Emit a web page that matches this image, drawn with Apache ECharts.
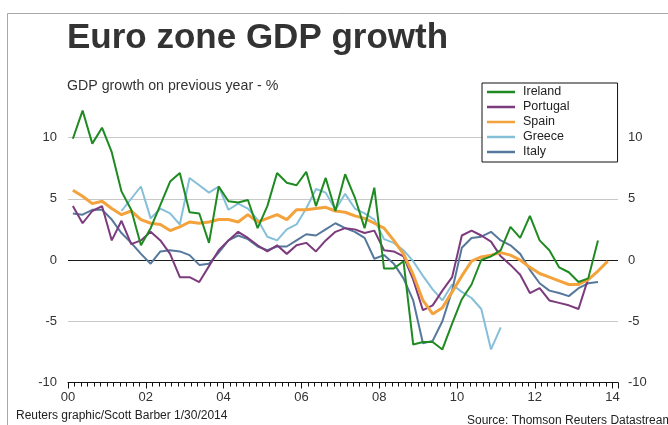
<!DOCTYPE html>
<html><head><meta charset="utf-8">
<script src="https://cdn.jsdelivr.net/npm/echarts@6/dist/echarts.min.js"></script>
<style>html,body{margin:0;padding:0;background:#fff}#c{width:668px;height:425px}</style>
</head><body><div id="c"></div>
<script>
// Quarterly observations, 2000Q1 .. 2013Q4
const quarters = [];
for (let y = 2000; y <= 2013; y++) for (let q = 1; q <= 4; q++) quarters.push(y + 'Q' + q);

const ireland = [9.9,12.2,9.5,10.8,8.8,5.6,4.1,1.2,2.6,4.5,6.4,7.1,
  3.9,3.8,1.4,6.0,4.8,4.7,4.9,2.6,4.4,7.1,6.3,6.1,7.2,4.4,6.7,4.0,7.0,5.1,2.6,5.9,
  -0.7,-0.7,-0.1,-6.9,-6.7,-6.7,-7.3,-5.2,-3.2,-2.0,0.0,0.3,0.8,2.7,1.8,3.6,1.6,0.8,-0.6,-1.0,-1.8,-1.5,1.6,null];
const portugal = [4.4,3.0,4.0,4.4,1.6,3.2,1.3,1.6,2.3,1.6,0.5,-1.4,-1.4,
  -1.8,-0.5,0.8,1.6,2.3,1.8,1.2,0.7,1.2,0.5,1.2,1.4,0.7,1.6,
  2.3,2.6,2.5,2.2,2.4,0.8,0.7,0.3,-1.6,-4.1,-3.7,-2.5,-1.4,
  2.0,2.4,2.0,1.5,0.3,-0.4,-1.2,-2.7,-2.3,-3.3,-3.5,-3.7,-4.0,-1.5,null,null];
const spain = [5.7,5.2,4.6,4.8,4.2,3.7,4.0,3.3,3.0,2.9,2.4,2.7,3.1,
  3.0,3.1,3.3,3.3,3.1,3.7,3.1,3.4,3.7,3.3,4.1,4.1,4.2,4.3,
  4.0,3.9,3.6,3.4,3.0,2.6,1.6,0.5,-1.2,-3.3,-4.4,-3.9,
  -2.6,-1.3,-0.1,0.25,0.4,0.6,0.4,0.0,-0.6,-1.1,-1.4,-1.7,-2.0,-2.0,-1.6,-0.9,-0.1];
const greece = [null,null,null,null,null,4.0,5.0,6.0,3.4,4.2,3.8,2.9,6.7,
  6.1,5.5,6.0,4.1,4.6,4.2,3.3,1.9,1.6,2.5,2.9,4.2,5.8,5.5,
  4.1,5.4,4.2,3.8,3.3,1.7,1.4,0.8,-0.1,-1.3,-2.4,-3.3,
  -2.0,-2.6,-3.1,-4.0,-7.3,-5.5,null,null,null,null,null,null,null,null,null,null,null];
const italy = [3.8,3.7,4.1,4.1,3.3,2.2,1.4,0.5,-0.3,0.7,0.8,0.7,0.4,
  -0.4,-0.3,0.6,1.6,2.0,1.7,1.1,0.8,1.1,1.1,1.6,2.1,2.0,2.5,
  3.0,2.6,2.3,1.8,0.1,0.4,-0.3,-1.5,-3.3,-6.8,-6.6,-5.0,-2.5,
  1.0,1.8,1.9,2.3,1.6,1.2,0.5,-0.8,-1.9,-2.5,-2.7,-2.95,-2.3,-1.9,-1.8,null];

const seriesNames = ['Ireland','Portugal','Spain','Greece','Italy'];
const yTicks = [-10,-5,0,5,10];
const xTickYears = [2000,2002,2004,2006,2008,2010,2012,2014];

const colors = {Ireland:'#1f8a22', Portugal:'#7b3b7d', Spain:'#f3a23c', Greece:'#86c0d8', Italy:'#55789c'};
const values = {Ireland:ireland, Portugal:portugal, Spain:spain, Greece:greece, Italy:italy};

function qx(label){ const y = +label.slice(0,4), q = +label.slice(5); return y + (q - 0.5) / 4; }
function pts(arr){ return quarters.map((qq,i)=>[qx(qq), arr[i]]); }

const FONT = '"Liberation Sans", Arial, sans-serif';
const drawOrder = ['Greece','Italy','Portugal','Spain','Ireland'];

const chart = echarts.init(document.getElementById('c'), null, {renderer:'canvas'});
chart.setOption({
  animation:false,
  backgroundColor:'#fff',
  textStyle:{fontFamily:FONT},
  grid:{left:68, top:137.5, width:550, height:245, containLabel:false},
  xAxis:{type:'value', min:2000, max:2014.14, interval:2,
    axisLine:{show:true, onZero:false, lineStyle:{color:'#111', width:1}},
    axisTick:{show:true, inside:false, length:6, lineStyle:{color:'#111'}},
    minorTick:{show:true, splitNumber:12, length:4, lineStyle:{color:'#111'}},
    splitLine:{show:false},
    axisLabel:{margin:8, fontSize:13, color:'#333', fontFamily:FONT,
      formatter:v=> xTickYears.indexOf(Math.round(v*1000)/1000) >= 0 ? String(v).slice(2) : '',
      showMaxLabel:false}
  },
  yAxis:[
    {type:'value', min:yTicks[0], max:yTicks[yTicks.length-1], interval:5, position:'left',
     axisLine:{show:false}, axisTick:{show:false},
     axisLabel:{margin:11, fontSize:13, color:'#333', fontFamily:FONT},
     splitLine:{show:true, lineStyle:{color:['rgba(0,0,0,0)','#c8c8c8','#1a1a1a','#c8c8c8','#c8c8c8'], width:1}}},
    {type:'value', min:yTicks[0], max:yTicks[yTicks.length-1], interval:5, position:'right',
     axisLine:{show:false}, axisTick:{show:false}, splitLine:{show:false},
     axisLabel:{margin:10, fontSize:13, color:'#333', fontFamily:FONT}}
  ],
  legend:{data:seriesNames, orient:'vertical', left:482, top:83,
    backgroundColor:'#fff', borderColor:'#111', borderWidth:1, borderRadius:0,
    padding:[2,48,3,5], itemGap:1, itemWidth:28, itemHeight:2.5, icon:'rect',
    textStyle:{fontSize:12.5, color:'#222', lineHeight:14, fontFamily:FONT, padding:[0,0,0,3]}},
  series: drawOrder.map(n=>({
    name:n, type:'line', data:pts(values[n]), showSymbol:false, symbol:'none',
    connectNulls:false, clip:false, color:colors[n],
    lineStyle:{width: n==='Spain'?3:2, color:colors[n]}, z: 3
  })),
  graphic:[
    {type:'polyline', shape:{points:[[7.5,425],[7.5,13.5],[668,13.5]]}, style:{stroke:'#a8a8a8', fill:null, lineWidth:1}, silent:true},
    {type:'text', x:67, y:38, style:{text:'Euro zone GDP growth', font:'bold 35px '+FONT, fill:'#333', textVerticalAlign:'middle'}},
    {type:'text', x:67, y:86, style:{text:'GDP growth on previous year - %', font:'14.2px '+FONT, fill:'#333', textVerticalAlign:'middle'}},
    {type:'text', x:16, y:416, style:{text:'Reuters graphic/Scott Barber 1/30/2014', font:'12px '+FONT, fill:'#222', textVerticalAlign:'middle'}},
    {type:'text', x:467, y:421, style:{text:'Source: Thomson Reuters Datastream', font:'12px '+FONT, fill:'#222', textVerticalAlign:'middle'}}
  ]
});
</script></body></html>
